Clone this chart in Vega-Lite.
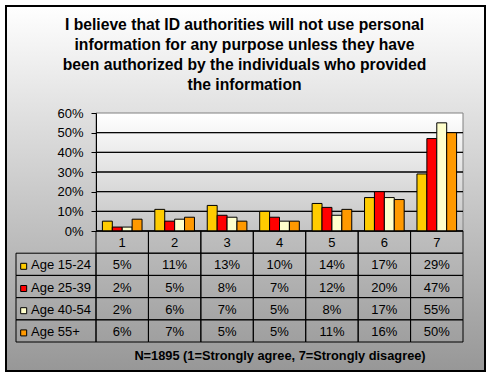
{
  "$schema": "https://vega.github.io/schema/vega-lite/v6.json",
  "width": 479,
  "height": 365,
  "autosize": "none",
  "padding": {"left": 6, "top": 6, "right": 6, "bottom": 6},
  "background": "white",
  "view": {
    "fill": {"gradient": "linear", "x1": 0, "y1": 0, "x2": 0, "y2": 1, "stops": [{"offset": 0, "color": "#ffffff"}, {"offset": 1, "color": "#979797"}]},
    "stroke": "black",
    "strokeWidth": 2
  },
  "config": {"font": "Liberation Sans"},
  "title": {
    "text": ["I believe that ID authorities will not use personal", "information for any purpose unless they have", "been authorized by the individuals who provided", "the information"],
    "fontSize": 15.7,
    "fontWeight": "bold",
    "font": "Liberation Sans",
    "color": "black",
    "anchor": "middle",
    "frame": "group",
    "baseline": "top",
    "offset": -87.6,
    "lineHeight": 20,
    "dx": -1
  },
  "datasets": {
    "vals": [
      {"cat": "1", "group": "Age 15-24", "v": 0.05},
      {"cat": "2", "group": "Age 15-24", "v": 0.11},
      {"cat": "3", "group": "Age 15-24", "v": 0.13},
      {"cat": "4", "group": "Age 15-24", "v": 0.10},
      {"cat": "5", "group": "Age 15-24", "v": 0.14},
      {"cat": "6", "group": "Age 15-24", "v": 0.17},
      {"cat": "7", "group": "Age 15-24", "v": 0.29},
      {"cat": "1", "group": "Age 25-39", "v": 0.02},
      {"cat": "2", "group": "Age 25-39", "v": 0.05},
      {"cat": "3", "group": "Age 25-39", "v": 0.08},
      {"cat": "4", "group": "Age 25-39", "v": 0.07},
      {"cat": "5", "group": "Age 25-39", "v": 0.12},
      {"cat": "6", "group": "Age 25-39", "v": 0.20},
      {"cat": "7", "group": "Age 25-39", "v": 0.47},
      {"cat": "1", "group": "Age 40-54", "v": 0.02},
      {"cat": "2", "group": "Age 40-54", "v": 0.06},
      {"cat": "3", "group": "Age 40-54", "v": 0.07},
      {"cat": "4", "group": "Age 40-54", "v": 0.05},
      {"cat": "5", "group": "Age 40-54", "v": 0.08},
      {"cat": "6", "group": "Age 40-54", "v": 0.17},
      {"cat": "7", "group": "Age 40-54", "v": 0.55},
      {"cat": "1", "group": "Age 55+", "v": 0.06},
      {"cat": "2", "group": "Age 55+", "v": 0.07},
      {"cat": "3", "group": "Age 55+", "v": 0.05},
      {"cat": "4", "group": "Age 55+", "v": 0.05},
      {"cat": "5", "group": "Age 55+", "v": 0.11},
      {"cat": "6", "group": "Age 55+", "v": 0.16},
      {"cat": "7", "group": "Age 55+", "v": 0.50}
    ],
    "grid": [{"g": 0}, {"g": 0.1}, {"g": 0.2}, {"g": 0.3}, {"g": 0.4}, {"g": 0.5}],
    "area": [{"area": "plot"}]
  },
  "resolve": {"scale": {"x": "independent", "y": "independent"}, "axis": {"x": "independent", "y": "independent"}},
  "layer": [
    {
      "data": {"name": "area"},
      "mark": {"type": "rect", "fill": {"gradient": "linear", "x1": 0, "y1": 0, "x2": 0, "y2": 1, "stops": [{"offset": 0, "color": "#ffffff"}, {"offset": 1, "color": "#c4c4c4"}]}, "stroke": "#808080", "strokeWidth": 1},
      "encoding": {
        "x": {"field": "area", "type": "nominal", "scale": {"type": "band", "domain": ["plot"], "range": [90, 457], "paddingInner": 0, "paddingOuter": 0}, "axis": null},
        "y": {"datum": 0.6, "type": "quantitative", "scale": {"domain": [0, 0.6], "range": [225, 107], "nice": false}, "axis": null},
        "y2": {"datum": 0}
      }
    },
    {
      "data": {"name": "grid"},
      "mark": {"type": "rect", "fill": "transparent", "stroke": "black", "strokeWidth": 1},
      "encoding": {
        "x": {"datum": "plot", "type": "nominal", "scale": {"type": "band", "domain": ["plot"], "range": [90, 457], "paddingInner": 0, "paddingOuter": 0}, "axis": null},
        "y": {"field": "g", "type": "quantitative", "scale": {"domain": [0, 0.6], "range": [225, 107], "nice": false}, "axis": null},
        "y2": {"field": "g"}
      }
    },
    {
      "data": {"name": "vals"},
      "mark": {"type": "bar", "stroke": "black", "strokeWidth": 1},
      "encoding": {
        "x": {
          "field": "cat", "type": "nominal",
          "scale": {"type": "band", "domain": ["1", "2", "3", "4", "5", "6", "7"], "range": [90, 457], "paddingInner": 0, "paddingOuter": 0},
          "axis": {"labels": false, "ticks": false, "domain": false, "grid": false, "title": "N=1895 (1=Strongly agree, 7=Strongly disagree)", "titleFont": "Liberation Sans", "titleFontWeight": "bold", "titleFontSize": 12.8, "titleColor": "black", "offset": -21.5, "titlePadding": 0}
        },
        "xOffset": {"field": "group", "type": "nominal", "scale": {"domain": ["Age 15-24", "Age 25-39", "Age 40-54", "Age 55+"], "paddingInner": 0, "paddingOuter": 0.645}},
        "y": {
          "field": "v", "type": "quantitative",
          "scale": {"domain": [0, 0.6], "range": [225, 107], "nice": false},
          "axis": {"orient": "left", "offset": -90, "values": [0, 0.1, 0.2, 0.3, 0.4, 0.5, 0.6], "format": ".0%", "grid": false, "domain": true, "domainColor": "black", "domainWidth": 1, "tickColor": "black", "tickSize": 5, "labelPadding": 8, "labelFontSize": 13, "labelColor": "black", "labelFont": "Liberation Sans", "title": null, "zindex": 1}
        },
        "color": {"field": "group", "type": "nominal", "scale": {"domain": ["Age 15-24", "Age 25-39", "Age 40-54", "Age 55+"], "range": ["#FFCC00", "#FF0000", "#FFFFCC", "#FF9900"]}, "legend": null}
      }
    },
    {
      "data": {"name": "vals"},
      "encoding": {
        "x": {"field": "cat", "type": "nominal", "scale": {"type": "band", "domain": ["1", "2", "3", "4", "5", "6", "7"], "range": [90, 457], "paddingInner": 0, "paddingOuter": 0}, "axis": null}
      },
      "layer": [
        {
          "transform": [{"aggregate": [{"op": "count", "as": "n"}], "groupby": ["cat"]}],
          "mark": {"type": "rect", "fill": "transparent", "stroke": "black", "strokeWidth": 1},
          "encoding": {"y": {"datum": "hdr", "type": "nominal", "scale": {"type": "band", "domain": ["hdr", "Age 15-24", "Age 25-39", "Age 40-54", "Age 55+"], "range": [225, 336], "paddingInner": 0, "paddingOuter": 0}, "axis": null}}
        },
        {
          "transform": [{"aggregate": [{"op": "count", "as": "n"}], "groupby": ["cat"]}],
          "mark": {"type": "text", "fontSize": 13, "color": "black", "font": "Liberation Sans", "dy": 1},
          "encoding": {"y": {"datum": "hdr", "type": "nominal"}, "text": {"field": "cat"}}
        },
        {
          "mark": {"type": "rect", "fill": "transparent", "stroke": "black", "strokeWidth": 1},
          "encoding": {"y": {"field": "group", "type": "nominal"}}
        },
        {
          "mark": {"type": "text", "fontSize": 13, "color": "black", "font": "Liberation Sans", "dy": 1},
          "encoding": {"y": {"field": "group", "type": "nominal"}, "text": {"field": "v", "format": ".0%"}}
        }
      ]
    },
    {
      "data": {"name": "vals"},
      "transform": [{"aggregate": [{"op": "count", "as": "n"}], "groupby": ["group"]}],
      "encoding": {
        "y": {"field": "group", "type": "nominal", "scale": {"type": "band", "domain": ["hdr", "Age 15-24", "Age 25-39", "Age 40-54", "Age 55+"], "range": [225, 336], "paddingInner": 0, "paddingOuter": 0}, "axis": null}
      },
      "layer": [
        {
          "mark": {"type": "rect", "fill": "transparent", "stroke": "black", "strokeWidth": 1},
          "encoding": {"x": {"datum": "legend", "type": "nominal", "scale": {"type": "band", "domain": ["legend"], "range": [10, 90], "paddingInner": 0, "paddingOuter": 0}, "axis": null}}
        },
        {
          "mark": {"type": "square", "filled": true, "size": 36, "stroke": "black", "strokeWidth": 1, "opacity": 1, "yOffset": 2},
          "encoding": {
            "x": {"datum": "legend", "type": "nominal", "bandPosition": 0.096},
            "color": {"field": "group", "type": "nominal", "scale": {"domain": ["Age 15-24", "Age 25-39", "Age 40-54", "Age 55+"], "range": ["#FFCC00", "#FF0000", "#FFFFCC", "#FF9900"]}, "legend": null}
          }
        },
        {
          "mark": {"type": "text", "align": "left", "fontSize": 13, "color": "black", "font": "Liberation Sans", "dy": 1},
          "encoding": {
            "x": {"datum": "legend", "type": "nominal", "bandPosition": 0.1875},
            "text": {"field": "group"}
          }
        }
      ]
    }
  ]
}
